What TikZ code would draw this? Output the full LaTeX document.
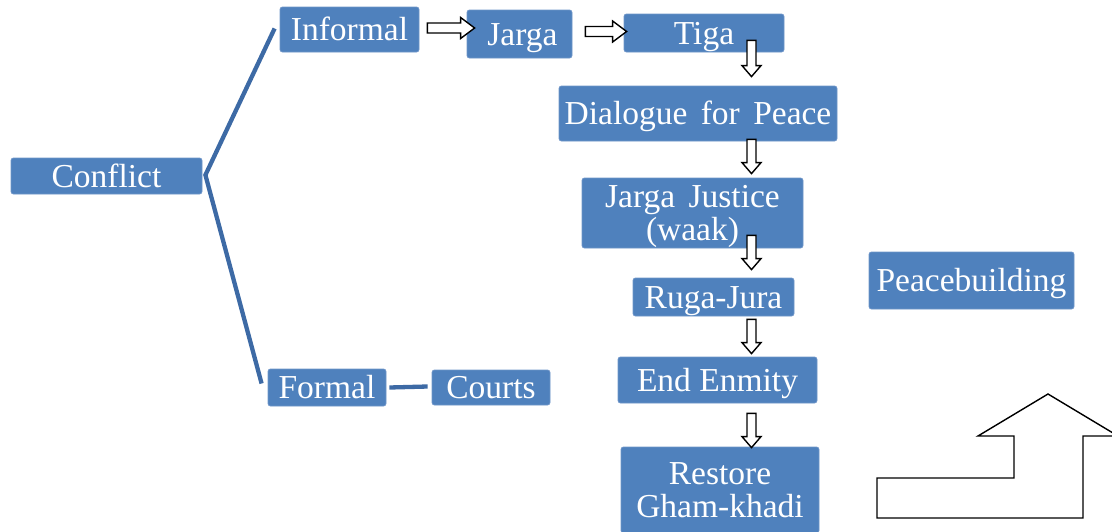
\documentclass[tikz,border=0pt]{standalone}
\usepackage{fontspec}
\setmainfont{Liberation Serif}
\usetikzlibrary{calc}
\definecolor{boxblue}{HTML}{4F81BD}
\definecolor{boxedge}{HTML}{6E95C8}
\definecolor{linkblue}{HTML}{3D6AA5}
\tikzset{
  box/.style={fill=boxblue, draw=boxedge, line width=0.8pt, rounded corners=2.5pt,
    text=white, font=\fontsize{33.5}{32.5}\selectfont, inner sep=0pt,
    text height=22.2pt, text depth=0pt, align=center},
  twoline/.style={text height=, text depth=},
  link/.style={draw=linkblue, line width=4.3pt, line join=miter},
  blockarrow/.style={draw=black, fill=white, line width=1.4pt, line join=miter},
}
\newcommand\varrowc[2]{%
  \draw[blockarrow] let \p1=#1, \p2=#2 in
    (\x1-4.5pt,\y1) -- (\x1+4.5pt,\y1) -- (\x1+4.5pt,\y2+11pt) -- (\x1+9.5pt,\y2+11pt)
    -- (\x1,\y2) -- (\x1-9.5pt,\y2+11pt) -- (\x1-4.5pt,\y2+11pt) -- cycle;}
\newcommand\harrowc[2]{%
  \draw[blockarrow] let \p1=#1, \p2=#2 in
    (\x1,\y1+5pt) -- (\x2-14pt,\y1+5pt) -- (\x2-14pt,\y1+10.5pt) -- (\x2,\y1)
    -- (\x2-14pt,\y1-10.5pt) -- (\x2-14pt,\y1-5pt) -- (\x1,\y1-5pt) -- cycle;}
\begin{document}
\begin{tikzpicture}[x=1pt,y=-1pt]
\useasboundingbox (0,0) rectangle (1112,531);
\clip (0,0) rectangle (1112,531);
% nodes
\node[box, minimum width=191pt, minimum height=36pt] (conflict) at (106.5,176) {Conflict};
\node[box, minimum width=139pt, minimum height=45pt] (informal) at (349.5,29.5) {Informal};
\node[box, minimum width=105pt, minimum height=48pt] (jarga) at (519.5,34) {\hspace{6pt}Jarga};
\node[box, minimum width=160pt, minimum height=38pt] (tiga) at (704,33) {Tiga};
\node[box, minimum width=278pt, minimum height=55pt] (dialogue) at (698,113.5) {Dialogue\hspace{5pt} for\hspace{5pt} Peace};
\node[box, twoline, minimum width=221pt, minimum height=70pt] (justice) at (692.5,213) {\rule{0pt}{29pt}Jarga\hspace{5pt} Justice\\(waak)};
\node[box, minimum width=161pt, minimum height=38pt] (ruga) at (713.5,297) {Ruga-Jura};
\node[box, minimum width=199pt, minimum height=46pt] (enmity) at (717.5,380) {End Enmity};
\node[box, twoline, minimum width=198pt, minimum height=86pt] (restore) at (720,490) {Restore\\Gham-khadi};
\node[box, minimum width=205pt, minimum height=57pt] (peace) at (971.5,280.5) {Peacebuilding};
\node[box, minimum width=118pt, minimum height=37pt] (formal) at (327,387.5) {Formal};
\node[box, minimum width=118pt, minimum height=35pt] (courts) at (491,387.5) {Courts};
% connectors
\coordinate (apex) at ($(conflict.east)+(3,-1)$);
\draw[link] ($(informal.west)+(-5,-1)$) -- (apex) -- ($(formal.west)+(-6,-4)$);
\draw[link] ($(formal.east)+(3,0)$) -- ($(courts.west)+(-4,-1)$);
% block arrows
\harrowc{($(informal.east)+(8,-1.5)$)}{($(jarga.west)+(8,0)$)}
\harrowc{($(jarga.east)+(13,-2.5)$)}{($(tiga.west)+(3,0)$)}
\coordinate (ax) at (751.5,0);
\varrowc{($(tiga.south -| ax)+(0,-12)$)}{($(dialogue.north -| ax)+(0,-9)$)}
\varrowc{($(dialogue.south -| ax)+(0,-2)$)}{($(justice.north -| ax)+(0,-4)$)}
\varrowc{($(justice.south -| ax)+(0,-13)$)}{($(ruga.north -| ax)+(0,-8)$)}
\varrowc{($(ruga.south -| ax)+(0,3)$)}{($(enmity.north -| ax)+(0,-3)$)}
\varrowc{($(enmity.south -| ax)+(0,10)$)}{($(restore.north -| ax)+(0,1)$)}
% bent up arrow
\draw[blockarrow] (877,518) -- (877,478) -- (1014,478) -- (1014,436) -- (978,436)
  -- (1048,394) -- (1118,436) -- (1083,436) -- (1083,518) -- cycle;
\end{tikzpicture}
\end{document}
